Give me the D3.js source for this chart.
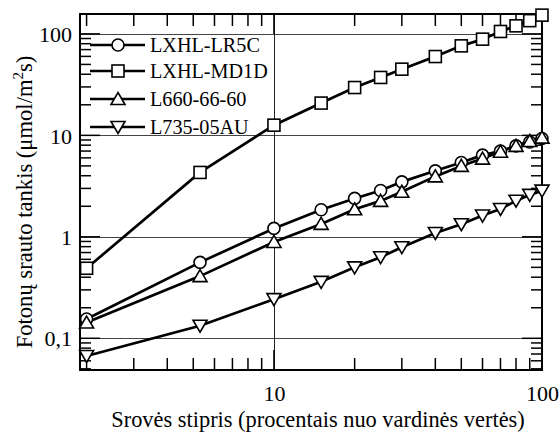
<!DOCTYPE html>
<html><head><meta charset="utf-8">
<script src="https://cdn.jsdelivr.net/npm/d3@7"></script>
</head><body style="margin:0;background:#fff"><svg id="c" width="559" height="432" style="display:block"></svg>
<script>
const xValues = [2, 5.3, 10, 15, 20, 25, 30, 40, 50, 60, 70, 80, 90, 100];
const seriesNames = ["LXHL-LR5C", "LXHL-MD1D", "L660-66-60", "L735-05AU"];
const lr5c = [0.155, 0.56, 1.21, 1.85, 2.39, 2.86, 3.48, 4.47, 5.4, 6.38, 7.0, 7.87, 8.6, 9.3];
const md1d = [0.49, 4.31, 12.6, 20.8, 29.6, 37.2, 44.9, 59.8, 76.2, 88.7, 105.6, 120, 135, 153];
const l660 = [0.143, 0.41, 0.89, 1.34, 1.87, 2.26, 2.78, 3.94, 5.0, 5.9, 6.9, 7.87, 8.8, 9.5];
const l735 = [0.067, 0.133, 0.243, 0.36, 0.50, 0.63, 0.79, 1.09, 1.33, 1.62, 1.88, 2.27, 2.59, 2.85];
const markerTypes = ["circle", "square", "up", "down"];
const xTickValues = [10, 100];
const xTickLabels = ["10", "100"];
const yTickValues = [0.1, 1, 10, 100];
const yTickLabels = ["0,1", "1", "10", "100"];
const xTitle = "Srovės stipris (procentais nuo vardinės vertės)";

const FONT = "'Liberation Serif', 'Times New Roman', serif";
function ff(sel, size) { return sel.attr("font-family", "Liberation Serif").style("font-family", FONT).attr("font-size", size).style("font-size", size + "px"); }
const L = 80, R = 542, T = 14, B = 370;
const svg = d3.select("#c");
const x = d3.scaleLog().domain([1.89, 100]).range([L, R]);
const y = d3.scaleLog().domain([0.0487, 157]).range([B, T]);

// gridlines
const g = svg.append("g");
yTickValues.forEach(v => g.append("line").attr("x1", L).attr("x2", R)
  .attr("y1", Math.round(y(v)) + 0.5).attr("y2", Math.round(y(v)) + 0.5)
  .attr("stroke", "#444").attr("stroke-width", 1));
g.append("line").attr("x1", Math.round(x(10)) + 0.5).attr("x2", Math.round(x(10)) + 0.5)
  .attr("y1", T).attr("y2", B).attr("stroke", "#222").attr("stroke-width", 1);

// minor/major ticks
function logVals(lo, hi) {
  const out = [];
  for (let e = Math.floor(Math.log10(lo)); e <= Math.ceil(Math.log10(hi)); e++)
    for (let k = 1; k <= 9; k++) { const v = k * Math.pow(10, e); if (v >= lo * 1.0001 && v <= hi * 0.9999) out.push({v, major: k === 1}); }
  return out;
}
const tk = svg.append("g").attr("stroke", "#000").attr("stroke-width", 1.5);
logVals(0.0487, 157).forEach(t => {
  const yy = y(t.v), len = t.major ? 20 : 11;
  tk.append("line").attr("x1", L).attr("x2", L + len).attr("y1", yy).attr("y2", yy);
  tk.append("line").attr("x1", R).attr("x2", R - len).attr("y1", yy).attr("y2", yy);
});
logVals(1.89, 100.5).forEach(t => {
  const xx = x(t.v), len = t.major ? 20 : 12;
  tk.append("line").attr("x1", xx).attr("x2", xx).attr("y1", B).attr("y2", B - len);
  tk.append("line").attr("x1", xx).attr("x2", xx).attr("y1", T).attr("y2", T + len);
});

// axis labels via d3 axes
const xAxis = d3.axisBottom(x).tickValues(xTickValues).tickFormat((d, i) => xTickLabels[i]).tickSize(0).tickPadding(0);
const xa = svg.append("g").attr("transform", `translate(0,${B})`).call(xAxis);
ff(xa, 22);
xa.select(".domain").remove();
ff(xa.selectAll("text"), 22).attr("dy", null).attr("y", 31);
const yAxis = d3.axisLeft(y).tickValues(yTickValues).tickFormat((d, i) => yTickLabels[i]).tickSize(0).tickPadding(0);
const ya = svg.append("g").attr("transform", `translate(${L},0)`).call(yAxis);
ff(ya, 22);
ya.select(".domain").remove();
ff(ya.selectAll("text"), 22).attr("x", -8).attr("dy", "0.35em");

// frame
svg.append("rect").attr("x", L).attr("y", T).attr("width", R - L).attr("height", B - T)
  .attr("fill", "none").attr("stroke", "#000").attr("stroke-width", 2);

// titles
ff(svg.append("text").attr("x", 318).attr("y", 427).attr("text-anchor", "middle"), 22.4).text(xTitle);
const yt = ff(svg.append("text").attr("transform", "translate(32,202) rotate(-90)").attr("text-anchor", "middle"), 22.6);
yt.append("tspan").text("Fotonų srauto tankis (μmol/m");
yt.append("tspan").attr("dy", -9).style("font-size", "15px").text("2");
yt.append("tspan").attr("dy", 9).text("s)");

// markers
function marker(sel, type) {
  if (type === "circle") return sel.append("circle").attr("r", 6);
  if (type === "square") return sel.append("rect").attr("x", -6).attr("y", -6).attr("width", 12).attr("height", 12);
  if (type === "up") return sel.append("path").attr("d", "M0,-6.5L7,5.5L-7,5.5Z");
  return sel.append("path").attr("d", "M0,6.5L7,-5.5L-7,-5.5Z");
}
const allSeries = [lr5c, md1d, l660, l735];
const line = d3.line().x(d => x(d[0])).y(d => y(d[1]));
allSeries.forEach((vals, si) => {
  const pts = xValues.map((xv, i) => [xv, vals[i]]);
  svg.append("path").datum(pts).attr("d", line).attr("fill", "none").attr("stroke", "#000").attr("stroke-width", 2.7);
});
allSeries.forEach((vals, si) => {
  xValues.forEach((xv, i) => {
    const m = svg.append("g").attr("transform", `translate(${x(xv)},${y(vals[i])})`);
    marker(m, markerTypes[si]).attr("fill", "#fff").attr("stroke", "#000").attr("stroke-width", 1.6);
  });
});

// legend
const legY = [45, 71, 99, 127];
seriesNames.forEach((name, i) => {
  const lg = svg.append("g").attr("transform", `translate(0,${legY[i]})`);
  lg.append("line").attr("x1", 90).attr("x2", 145).attr("y1", 0).attr("y2", 0).attr("stroke", "#000").attr("stroke-width", 2.7);
  const m = lg.append("g").attr("transform", "translate(118,0)");
  marker(m, markerTypes[i]).attr("fill", "#fff").attr("stroke", "#000").attr("stroke-width", 1.6);
  ff(lg.append("text").attr("x", 150).attr("dy", "0.35em"), 20.2).text(name);
});
</script></body></html>
